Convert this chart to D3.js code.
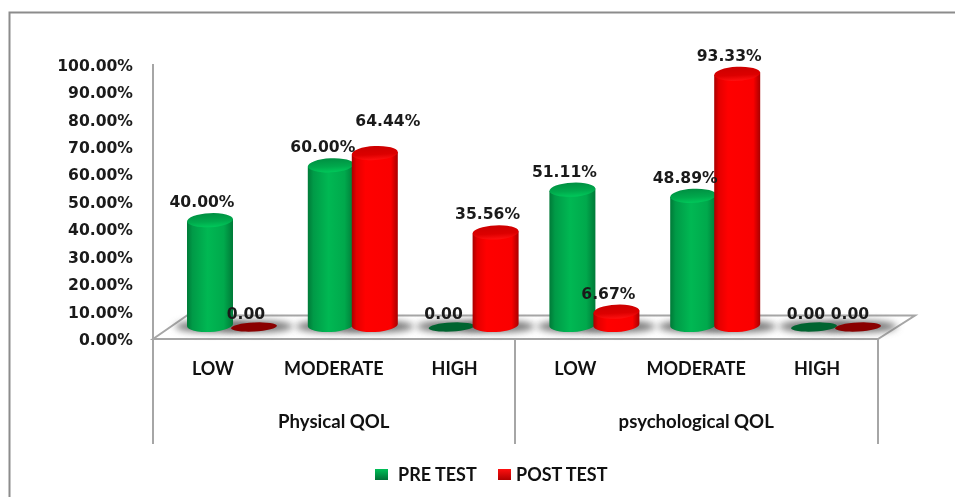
<!DOCTYPE html>
<html>
<head>
<meta charset="utf-8" />
<style>
  body { margin: 0; background: #fff; }
  svg { display: block; }
  .val { font-family: "DejaVu Sans"; font-weight: bold; font-size: 15.6px; fill: #1a1a1a; filter: blur(0.3px); }
  .cat { font-family: Lato; font-weight: bold; font-size: 18px; fill: #111; filter: blur(0.3px); }
  .grp { font-size: 18.6px; }
</style>
<script src="https://cdnjs.cloudflare.com/ajax/libs/d3/7.8.5/d3.min.js"></script>
</head>
<body>
<div id="graph"></div>
<script>
var groups = ["Physical QOL", "psychological QOL"];
var levels = ["LOW", "MODERATE", "HIGH"];
var seriesNames = ["PRE TEST", "POST TEST"];
var preTest = [40.00, 60.00, 0, 51.11, 48.89, 0];
var postTest = [0, 64.44, 35.56, 6.67, 93.33, 0];
var yTicks = [0, 10, 20, 30, 40, 50, 60, 70, 80, 90, 100];

var w = 955, h = 497;
var depth = 9;      // bars stand this far behind the front of the floor
var rx = 23, ry = 7, tilt = -3;

var svg = d3.select("#graph").append("svg").attr("width", w).attr("height", h);
var defs = svg.append("defs");

function gradient(id, stops, vertical) {
  var g = defs.append("linearGradient").attr("id", id);
  if (vertical) g.attr("x2", 0).attr("y2", 1);
  stops.forEach(function (s) {
    g.append("stop").attr("offset", s[0]).attr("stop-color", s[1]);
  });
}
gradient("green", [[0, "#007a38"], [0.12, "#009a47"], [0.45, "#00b853"], [0.8, "#00a94c"], [1, "#007a38"]]);
gradient("red", [[0, "#a80000"], [0.1, "#e40000"], [0.3, "#ff0000"], [0.85, "#fa0000"], [1, "#a80000"]]);
gradient("greenTop", [[0, "#008f42"], [0.6, "#00a94c"], [1, "#00c85a"]], true);
gradient("redTop", [[0, "#cc0000"], [0.6, "#dc0000"], [1, "#ff1010"]], true);
gradient("greenKey", [[0, "#00c058"], [1, "#006f35"]], true);
gradient("redKey", [[0, "#ff1010"], [1, "#b00000"]], true);
defs.append("filter").attr("id", "soft").attr("x", "-40%").attr("y", "-80%").attr("width", "180%").attr("height", "260%")
  .append("feGaussianBlur").attr("stdDeviation", 3.5);

var y = d3.scaleLinear().domain([0, 100]).range([339, 64.5]);

var rows = [];
groups.forEach(function (g, i) {
  levels.forEach(function (l, j) { rows.push(g + "|" + j); });
});
var x0 = d3.scaleBand().domain(rows).range([171.6, 896.4]);
var x1 = d3.scaleBand().domain(seriesNames).range([x0.bandwidth() / 2 - 44, x0.bandwidth() / 2 + 44]);

var marks = [];
rows.forEach(function (r, i) {
  marks.push({ row: r, s: 0, v: preTest[i], cx: x0(r) + x1(seriesNames[0]) + x1.bandwidth() / 2 });
  marks.push({ row: r, s: 1, v: postTest[i], cx: x0(r) + x1(seriesNames[1]) + x1.bandwidth() / 2 });
});

// outer frame, open on the right and at the bottom
svg.append("path").attr("d", "M9.5," + h + "V12.5H" + w)
  .attr("fill", "none").attr("stroke", "#8c8c8c").attr("stroke-width", 2);

// floor
var gray = "#a6a6a6";
svg.append("path").attr("d", "M153,339L187,315.5H915L878,339Z")
  .attr("fill", "#fff").attr("stroke", gray).attr("stroke-width", 2);

// shadows on the floor
svg.append("g").selectAll("ellipse").data(marks).enter().append("ellipse")
  .attr("cx", function (d) { return d.cx + 2; })
  .attr("cy", 326.5)
  .attr("rx", rx + 14)
  .attr("ry", 6)
  .attr("fill", "#777")
  .attr("filter", "url(#soft)");

// axis
var yAxis = d3.axisLeft(y).tickValues(yTicks).tickSize(0).tickPadding(20)
  .tickFormat(function (d) { return d3.format(".2f")(d) + "%"; });
var ga = svg.append("g").attr("transform", "translate(153,0)").call(yAxis);
ga.select(".domain").remove();
ga.selectAll("text").attr("class", "val").attr("fill", null).attr("dy", "0.36em");
svg.append("line").attr("x1", 153).attr("x2", 153).attr("y1", 64).attr("y2", 444)
  .attr("stroke", gray).attr("stroke-width", 2);
[515, 878].forEach(function (d) {
  svg.append("line").attr("x1", d).attr("x2", d).attr("y1", 339).attr("y2", 444)
    .attr("stroke", gray).attr("stroke-width", 2);
});

// cylinders
var names = ["green", "red"];
var flat = ["#006430", "#8a0000"];
var sin = Math.sin(tilt * Math.PI / 180) * rx;
var baseY = 325;

marks.forEach(function (d) {
  var g = svg.append("g");
  if (d.v === 0) {
    g.append("ellipse").attr("cx", d.cx).attr("cy", 327).attr("rx", rx).attr("ry", 4.5)
      .attr("transform", "rotate(" + tilt + " " + d.cx + " 327)")
      .attr("fill", flat[d.s]);
    return;
  }
  var top = y(d.v) - depth;
  var l = d.cx - rx, r = d.cx + rx;
  g.append("path")
    .attr("d", "M" + l + "," + (top - sin) + "L" + l + "," + (baseY - sin)
      + "A" + rx + "," + ry + " " + tilt + " 0 0 " + r + "," + (baseY + sin)
      + "L" + r + "," + (top + sin) + "Z")
    .attr("fill", "url(#" + names[d.s] + ")");
  g.append("ellipse").attr("cx", d.cx).attr("cy", top).attr("rx", rx).attr("ry", ry)
    .attr("transform", "rotate(" + tilt + " " + d.cx + " " + top + ")")
    .attr("fill", "url(#" + names[d.s] + "Top)");
});

// value labels
var labelFormat = function (v) { return v === 0 ? "0.00" : d3.format(".2f")(v) + "%"; };
marks.forEach(function (d) {
  var dx = -8, dy = -13;
  if (d.v === 64.44) { dx = 13; dy = -27; }
  var ty = d.v === 0 ? 319 : y(d.v) - depth + dy;
  svg.append("text").attr("class", "val").attr("text-anchor", "middle")
    .attr("x", d.cx + dx).attr("y", ty).text(labelFormat(d.v));
});

// category labels
var catG = svg.append("g").attr("text-anchor", "middle");
rows.forEach(function (r, i) {
  catG.append("text").attr("class", "cat").attr("x", x0(r) + x0.bandwidth() / 2 - 19).attr("y", 375)
    .text(levels[i % levels.length]);
});
groups.forEach(function (g, i) {
  catG.append("text").attr("class", "cat grp").attr("x", x0(g + "|1") + x0.bandwidth() / 2 - 19).attr("y", 428).text(g);
});

// legend
var legendX = [[375, 398], [498, 516]];
seriesNames.forEach(function (n, i) {
  svg.append("rect").attr("x", legendX[i][0]).attr("y", 469).attr("width", 13).attr("height", 11)
    .attr("fill", "url(#" + names[i] + "Key)");
  svg.append("text").attr("class", "cat").attr("x", legendX[i][1]).attr("y", 481).text(n);
});
</script>
</body>
</html>
